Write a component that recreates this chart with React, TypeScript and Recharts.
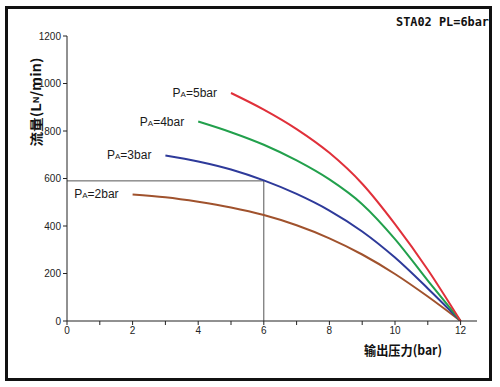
import React from 'react';
import { LineChart, Line, XAxis, YAxis, ReferenceLine } from 'recharts';

const pressures = [2, 3, 4, 5, 6, 7, 8, 9, 10, 11, 12];
const flowPA2 = [533, 521, 502, 478, 446, 403, 348, 280, 198, 103, 0];
const flowPA3 = [null, 697, 672, 638, 592, 535, 465, 377, 267, 137, 0];
const flowPA4 = [null, null, 840, 795, 742, 676, 596, 492, 345, 170, 0];
const flowPA5 = [null, null, null, 960, 890, 808, 708, 578, 408, 216, 0];
const paLevels = [2, 3, 4, 5];
const seriesColors = ['#a0522d', '#2e3a9a', '#22a04c', '#e0303a'];
const xTicks = [0, 1, 2, 3, 4, 5, 6, 7, 8, 9, 10, 11, 12];
const yTicks = [0, 200, 400, 600, 800, 1000, 1200];
const markerPressure = 6;
const markerFlow = 590;
const titleText = 'STA02 PL=6bar';
const xLabelText = '输出压力(bar)';

const seriesArrays = [flowPA2, flowPA3, flowPA4, flowPA5];
const data = pressures.map((x, i) => {
  const row: any = { x };
  seriesArrays.forEach((arr, s) => {
    row['pa' + paLevels[s]] = arr[i] === null ? undefined : arr[i];
  });
  return row;
});

const startX = (arr: (number | null)[]) => pressures[arr.findIndex((v) => v !== null)];

const makeStartLabel = (sx: number, pa: number) => (p: any) => {
  const key = 'd' + pa + '-' + p.index;
  if (!p.payload || p.payload.x !== sx || p.cy == null || isNaN(p.cy)) return <g key={key} />;
  return (
    <text
      key={key}
      x={p.cx - 14}
      y={p.cy}
      dy={4}
      textAnchor="end"
      fontSize={12}
      fill="#1a1a1a"
      fontFamily="'Liberation Sans', Arial, sans-serif"
    >
      P<tspan fontSize={8}>A</tspan>={pa}bar
    </text>
  );
};

const tickStyle = { fontSize: 10, fill: '#222', fontFamily: "'Liberation Sans', Arial, sans-serif" };

export default function App() {
  return (
    <div style={{ position: 'absolute', left: 0, top: 0, width: 500, height: 387, background: '#fff' }}>
      <LineChart
        width={500}
        height={387}
        data={data}
        margin={{ top: 36, right: 23, bottom: 36, left: 0 }}
      >
        <XAxis
          dataKey="x"
          type="number"
          domain={[0, 12.5]}
          allowDataOverflow
          ticks={xTicks}
          tickFormatter={(v: number) => (v % 2 === 0 ? String(v) : '')}
          stroke="#222"
          tick={tickStyle}
          tickSize={4}
          tickMargin={2}
          height={30}
          interval={0}
        />
        <YAxis
          type="number"
          domain={[0, 1200]}
          allowDataOverflow
          ticks={yTicks}
          stroke="#222"
          tick={tickStyle}
          tickSize={4}
          tickMargin={2}
          width={67}
          interval={0}
        />
        <ReferenceLine
          segment={[{ x: 0, y: markerFlow }, { x: markerPressure, y: markerFlow }]}
          stroke="#555"
          strokeWidth={1}
          ifOverflow="visible"
        />
        <ReferenceLine
          segment={[{ x: markerPressure, y: 0 }, { x: markerPressure, y: markerFlow }]}
          stroke="#555"
          strokeWidth={1}
          ifOverflow="visible"
        />
        {seriesArrays.map((arr, s) => (
          <Line
            key={paLevels[s]}
            type="monotone"
            dataKey={'pa' + paLevels[s]}
            stroke={seriesColors[s]}
            strokeWidth={2}
            dot={makeStartLabel(startX(arr), paLevels[s])}
            activeDot={false}
            isAnimationActive={false}
            connectNulls={false}
          />
        ))}
      </LineChart>
      <svg
        width={500}
        height={387}
        style={{ position: 'absolute', left: 0, top: 0, pointerEvents: 'none' }}
      >
        <rect x={6.5} y={7.5} width={484} height={372} fill="none" stroke="#111" strokeWidth={3} />
        <text
          x={396}
          y={26}
          fontSize={13}
          fontWeight="bold"
          fill="#111"
          fontFamily="'DejaVu Sans Mono', monospace"
          textLength={93}
          lengthAdjust="spacingAndGlyphs"
        >
          {titleText}
        </text>
        <text
          x={35}
          y={102}
          transform="rotate(-90, 35, 102)"
          textAnchor="middle"
          dominantBaseline="central"
          fontSize={13}
          fontWeight="bold"
          fill="#111"
          fontFamily="'Noto Sans CJK SC', sans-serif"
          textLength={89}
          lengthAdjust="spacingAndGlyphs"
        >
          流量(L<tspan fontSize={8}>N</tspan>/min)
        </text>
        <text
          x={403}
          y={349}
          textAnchor="middle"
          dominantBaseline="central"
          fontSize={13}
          fontWeight="bold"
          fill="#111"
          fontFamily="'Noto Sans CJK SC', sans-serif"
          textLength={78}
          lengthAdjust="spacingAndGlyphs"
        >
          {xLabelText}
        </text>
      </svg>
    </div>
  );
}
